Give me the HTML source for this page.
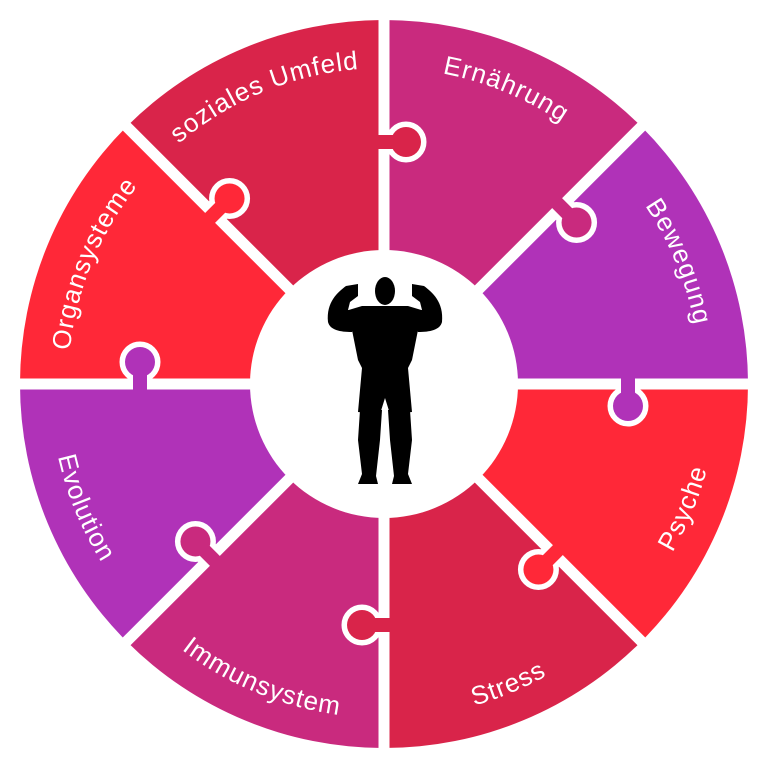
<!DOCTYPE html>
<html><head><meta charset="utf-8"><style>
html,body{margin:0;padding:0;background:#fff}
svg{display:block}
text{font-family:"Liberation Sans",sans-serif;font-size:26px;fill:#fff;letter-spacing:1px}
</style></head><body>
<svg width="768" height="768" viewBox="0 0 768 768" xmlns="http://www.w3.org/2000/svg">
<defs>
<clipPath id="oct"><circle cx="384" cy="384" r="364"/></clipPath>
<path id="cw" d="M68,384 A316,316 0 1 1 700,384 A316,316 0 1 1 68,384"/>
<path id="ccw" d="M50,384 A334,334 0 1 0 718,384 A334,334 0 1 0 50,384"/>
<g id="knobo"><rect x="4" y="-7" width="12" height="14"/><circle cx="22" cy="0" r="15"/></g>
<g id="knob"><rect x="-8" y="-7" width="24" height="14"/><circle cx="22" cy="0" r="15"/></g>
</defs>
<g clip-path="url(#oct)">
<polygon points="384,384 0,0 384,0" fill="#d9244a"/>
<polygon points="384,384 384,0 768,0" fill="#c92a7e"/>
<polygon points="384,384 768,0 768,384" fill="#b032b8"/>
<polygon points="384,384 768,384 768,768" fill="#ff2838"/>
<polygon points="384,384 768,768 384,768" fill="#d9244a"/>
<polygon points="384,384 384,768 0,768" fill="#c92a7e"/>
<polygon points="384,384 0,768 0,384" fill="#b032b8"/>
<polygon points="384,384 0,384 0,0" fill="#ff2838"/>
</g>
<g stroke="#fff" stroke-width="11">
<line x1="384" y1="0" x2="384" y2="768"/>
<line x1="0" y1="384" x2="768" y2="384"/>
<line x1="100" y1="100" x2="668" y2="668"/>
<line x1="668" y1="100" x2="100" y2="668"/>
</g>
<g fill="#fff" stroke="#fff" stroke-width="11" stroke-linejoin="round">
<use href="#knobo" transform="translate(384,142) rotate(0)"/>
<use href="#knobo" transform="translate(561,207) rotate(45)"/>
<use href="#knobo" transform="translate(628,384) rotate(90)"/>
<use href="#knobo" transform="translate(554,554) rotate(135)"/>
<use href="#knobo" transform="translate(384,625) rotate(180)"/>
<use href="#knobo" transform="translate(211,557) rotate(225)"/>
<use href="#knobo" transform="translate(140,384) rotate(270)"/>
<use href="#knobo" transform="translate(214,214) rotate(315)"/>
</g>
<use href="#knob" transform="translate(384,142) rotate(0)" fill="#d9244a"/>
<use href="#knob" transform="translate(561,207) rotate(45)" fill="#c92a7e"/>
<use href="#knob" transform="translate(628,384) rotate(90)" fill="#b032b8"/>
<use href="#knob" transform="translate(554,554) rotate(135)" fill="#ff2838"/>
<use href="#knob" transform="translate(384,625) rotate(180)" fill="#d9244a"/>
<use href="#knob" transform="translate(211,557) rotate(225)" fill="#c92a7e"/>
<use href="#knob" transform="translate(140,384) rotate(270)" fill="#b032b8"/>
<use href="#knob" transform="translate(214,214) rotate(315)" fill="#ff2838"/>
<circle cx="384" cy="384" r="134" fill="#fff"/>
<text text-anchor="middle"><textPath href="#cw" startOffset="6.25%">Organsysteme</textPath></text>
<text text-anchor="middle"><textPath href="#cw" startOffset="18.75%">soziales Umfeld</textPath></text>
<text text-anchor="middle"><textPath href="#cw" startOffset="31.25%">Ernährung</textPath></text>
<text text-anchor="middle"><textPath href="#cw" startOffset="43.75%">Bewegung</textPath></text>
<text text-anchor="middle"><textPath href="#ccw" startOffset="6.25%">Evolution</textPath></text>
<text text-anchor="middle"><textPath href="#ccw" startOffset="18.75%">Immunsystem</textPath></text>
<text text-anchor="middle"><textPath href="#ccw" startOffset="31.25%">Stress</textPath></text>
<text text-anchor="middle"><textPath href="#ccw" startOffset="43.75%">Psyche</textPath></text>
<g fill="#000">
<ellipse cx="385" cy="291" rx="10" ry="14"/>
<path d="M362,306 L408,306 L428,312 L418,330 L412,360 L406,372 L364,372 L358,360 L352,330 L342,312 Z"/>
<path d="M328,322 C326,302 338,292 346,286 L358,284 L358,296 L350,302 L348,310 L362,314 L352,332 C340,332 330,330 328,322 Z"/>
<path d="M442,322 C444,302 432,292 424,286 L412,284 L412,296 L420,302 L422,310 L408,314 L418,332 C430,332 440,330 442,322 Z"/>
<path d="M362,368 L408,368 L412,412 L390,414 L385,398 L380,414 L358,412 Z"/>
<path d="M360,410 L382,410 L380,440 L376,476 L378,484 L358,484 L362,474 L358,440 Z"/>
<path d="M410,410 L388,410 L390,440 L394,476 L392,484 L412,484 L408,474 L412,440 Z"/>
</g>
</svg>
</body></html>
